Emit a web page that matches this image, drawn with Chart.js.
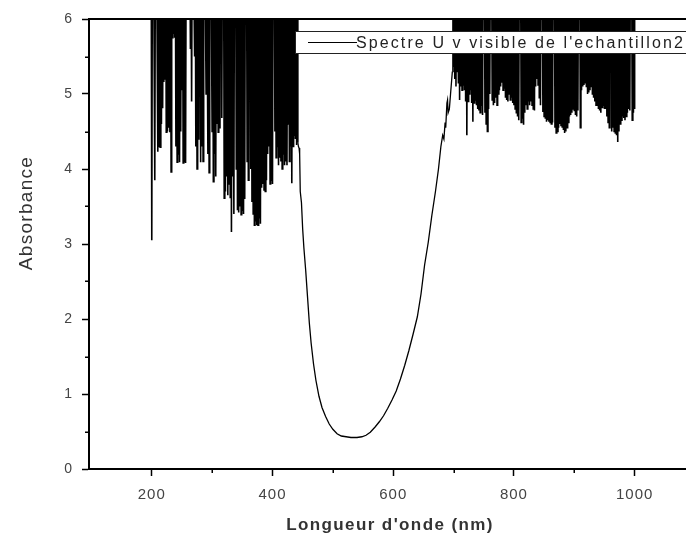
<!DOCTYPE html>
<html>
<head>
<meta charset="utf-8">
<script src="https://cdn.jsdelivr.net/npm/chart.js@4.4.1/dist/chart.umd.min.js"></script>
<style>
  html, body { margin: 0; padding: 0; overflow: hidden; background: #fff; }
  #wrap { width: 706px; height: 539px; }
  canvas { display: block; }
</style>
</head>
<body>
<div id="wrap"><canvas id="chart" width="706" height="539"></canvas></div>
<script>
// UV region: detector saturated, readings jump between the trough and off-scale (> 6)
const uvSaturated = [
  [199,7],[200,3.05],[201,7],[203,7],[205,3.85],[206,7],[208,7],[210,4.23],[211,7],[212,4.30],
  [213,7],[214,4.29],[215,7],[216,4.60],[217,7],[218,4.81],[219,7],[220,5.16],[221,7],[222,5.20],
  [223,7],[224,4.49],[225,7],[226,4.50],[227,7],[228,4.55],[229,7],[230,4.49],[231,7],[232,3.96],
  [233,7],[234,5.75],[235,7],[236,5.80],[237,7],[238,5.75],[239,7],[240,4.30],[241,7],[242,4.09],
  [243,7],[244,4.20],[245,7],[246,4.09],[247,7],[248,4.50],[249,7],[250,5.05],[251,7],[252,4.08],
  [253,7],[254,4.10],[255,7],[256,4.08],[257,7],[259,7],[261,7],[263,7],[264,5.60],[265,7],
  [266,4.90],[267,7],[269,7],[271,5.50],[272,7],[273,4.30],[274,7],[275,4.00],[276,7],[277,4.40],
  [278,7],[280,7],[281,4.09],[282,7],[283,4.30],[284,7],[285,4.10],[286,7],[288,7],[290,5.00],
  [291,7],[293,4.20],[294,7],[295,3.95],[296,7],[298,7],[300,4.50],[301,7],[302,3.83],[303,7],
  [304,4.20],[305,7],[306,3.90],[307,7],[308,4.60],[309,7],[310,4.49],[311,7],[312,4.55],[313,7],
  [315,7],[316,4.68],[317,7],[319,7],[320,3.61],[321,7],[322,3.70],[323,7],[324,3.90],[325,7],
  [326,3.65],[327,7],[328,3.80],[329,7],[330,3.62],[331,7],[332,3.16],[333,7],[334,3.90],[335,7],
  [336,3.40],[337,7],[339,7],[340,4.00],[341,7],[342,3.45],[343,7],[344,3.42],[345,7],[346,3.50],
  [347,7],[348,3.39],[349,7],[350,3.45],[351,7],[352,3.40],[353,7],[354,3.60],[355,7],[357,7],
  [358,4.10],[359,7],[360,3.85],[361,7],[363,7],[364,4.00],[365,7],[366,3.56],[367,7],[368,3.40],
  [369,7],[370,3.25],[371,7],[372,3.30],[373,7],[374,3.25],[375,7],[376,3.25],[377,7],[378,3.35],
  [379,7],[380,3.27],[381,7],[382,3.75],[383,7],[384,3.80],[385,7],[386,3.72],[387,7],[388,3.70],
  [389,7],[390,3.85],[391,7],[392,4.20],[393,7],[394,4.30],[395,7],[396,3.80],[397,7],[398,3.85],
  [399,7],[400,3.80],[401,7],[403,7],[404,4.50],[405,7],[406,4.15],[407,7],[408,4.30],[409,7],
  [410,4.05],[411,7],[412,4.15],[413,7],[414,4.10],[415,7],[416,4.00],[417,7],[418,4.20],[419,7],
  [420,4.05],[421,7],[422,4.10],[423,7],[424,4.05],[425,7],[426,4.60],[427,7],[428,4.10],[429,7],
  [430,4.30],[431,7],[432,3.81],[433,7],[434,4.30],[435,7],[436,4.45],[437,7],[438,4.40],[439,7],
  [440,4.32],[441,7],[442,4.35]
];

// Visible absorption band: clean reading with its minimum near 530 nm
const visibleBand = [
  [443,4.30],[444,4.28],[445,4.20],[446,3.70],[448,3.55],[450,3.20],[452,2.95],[455,2.65],
  [458,2.30],[461,1.95],[464,1.68],[468,1.40],[472,1.18],[477,0.97],[482,0.82],[488,0.70],
  [494,0.60],[500,0.53],[507,0.47],[514,0.44],[522,0.43],[530,0.42],[540,0.42],[548,0.43],
  [555,0.45],[562,0.49],[570,0.56],[577,0.63],[584,0.71],[591,0.81],[598,0.92],[605,1.04],
  [612,1.20],[619,1.38],[626,1.58],[633,1.80],[640,2.03],[646,2.33],[652,2.72],[658,3.02],
  [664,3.38],[670,3.70],[675,4.00],[679,4.30],[682,4.45],[684,4.40],[686,4.62],[687,4.55],
  [689,4.88],[690,4.92],[691,4.75],[693,4.80],[695,5.00],[697,5.20]
];

// Near-infrared region: saturated again
const nirSaturated = [
  [698,5.30],[699,7],[700,5.36],[701,7],[702,5.20],[703,7],[704,5.10],[705,7],[706,5.30],[707,7],
  [708,5.15],[709,7],[710,4.92],[711,7],[712,5.10],[713,7],[714,5.05],[715,7],[716,5.12],[717,7],
  [718,5.05],[719,7],[720,4.90],[721,7],[722,4.45],[723,7],[724,4.90],[725,7],[726,5.00],[727,7],
  [728,5.05],[729,7],[730,4.88],[731,7],[732,4.63],[733,7],[734,4.88],[735,7],[736,4.92],[737,7],
  [738,4.85],[739,7],[740,4.80],[741,7],[742,4.78],[743,7],[744,4.75],[745,7],[746,4.85],[747,7],
  [748,4.72],[749,7],[751,7],[752,4.75],[753,7],[754,4.60],[755,7],[756,4.50],[757,7],[758,4.80],
  [759,7],[760,5.00],[761,7],[763,7],[764,4.92],[765,7],[766,4.85],[767,7],[768,4.88],[769,7],
  [770,4.95],[771,7],[772,4.85],[773,7],[774,5.00],[775,7],[776,5.05],[777,7],[778,5.10],[779,7],
  [780,5.15],[781,7],[782,5.05],[783,7],[784,5.08],[785,7],[786,4.95],[787,7],[788,4.92],[789,7],
  [790,4.90],[791,7],[792,5.00],[793,7],[794,4.92],[795,7],[796,4.95],[797,7],[798,4.88],[799,7],
  [800,4.85],[801,7],[802,4.80],[803,7],[804,4.75],[805,7],[806,4.70],[807,7],[808,4.65],[809,7],
  [811,7],[812,4.62],[813,7],[814,4.68],[815,7],[816,4.59],[817,7],[818,4.75],[819,7],[820,4.85],
  [821,7],[822,4.80],[823,7],[824,4.90],[825,7],[826,4.85],[827,7],[828,4.90],[829,7],[830,4.85],
  [831,7],[832,4.80],[833,7],[834,4.78],[835,7],[836,5.10],[837,7],[838,5.20],[839,7],[840,5.12],
  [841,7],[842,4.95],[843,7],[844,4.85],[845,7],[847,7],[848,4.76],[849,7],[850,4.70],[851,7],
  [852,4.68],[853,7],[854,4.63],[855,7],[856,4.65],[857,7],[858,4.63],[859,7],[860,4.62],[861,7],
  [862,4.60],[863,7],[864,4.62],[865,7],[867,7],[868,4.55],[869,7],[870,4.48],[871,7],[872,4.50],
  [873,7],[874,4.55],[875,7],[876,4.60],[877,7],[878,4.58],[879,7],[880,4.56],[881,7],[882,4.52],
  [883,7],[884,4.48],[885,7],[886,4.50],[887,7],[888,4.55],[889,7],[890,4.62],[891,7],[892,4.70],
  [893,7],[894,4.72],[895,7],[896,4.75],[897,7],[898,4.80],[899,7],[900,4.78],[901,7],[902,4.72],
  [903,7],[904,4.70],[905,7],[906,4.78],[907,7],[909,7],[910,4.55],[911,7],[912,5.05],[913,7],
  [914,5.10],[915,7],[916,5.12],[917,7],[918,5.15],[919,7],[920,5.10],[921,7],[922,5.00],[923,7],
  [924,5.02],[925,7],[926,5.05],[927,7],[928,5.10],[929,7],[930,5.00],[931,7],[932,4.95],[933,7],
  [934,4.90],[935,7],[936,4.85],[937,7],[938,4.85],[939,7],[940,4.80],[941,7],[942,4.78],[943,7],
  [944,4.75],[945,7],[946,4.82],[947,7],[948,4.85],[949,7],[950,4.80],[951,7],[952,4.80],[953,7],
  [954,4.70],[955,7],[956,4.62],[957,7],[958,4.55],[959,7],[961,7],[962,4.50],[963,7],[964,4.55],
  [965,7],[966,4.50],[967,7],[968,4.48],[969,7],[970,4.45],[971,7],[972,4.36],[973,7],[974,4.50],
  [975,7],[976,4.60],[977,7],[978,4.65],[979,7],[980,4.70],[981,7],[982,4.68],[983,7],[984,4.65],
  [985,7],[986,4.70],[987,7],[988,4.75],[989,7],[990,4.80],[991,7],[992,4.78],[993,7],[995,7],
  [996,4.65],[997,7],[998,4.75],[999,7],[1000,4.80]
];

const xMajorTicks = [200, 400, 600, 800, 1000];
const xMinorTicks = [300, 500, 700, 900];
const yMajorTicks = [0, 1, 2, 3, 4, 5, 6];
const yMinorTicks = [0.5, 1.5, 2.5, 3.5, 4.5, 5.5];

const seriesLabel = "Spectre U v visible de l'echantillon2";
const xTitle = "Longueur d'onde (nm)";
const yTitle = "Absorbance";

const spectrum = [...uvSaturated, ...visibleBand, ...nirSaturated].map(([x, y]) => ({ x, y }));

const FONT = "'Liberation Sans', Arial, sans-serif";

// Draws the frame top, minor ticks, axis titles and the boxed legend
const framePlugin = {
  id: 'frame',
  beforeDraw(chart) {
    chart.ctx.letterSpacing = '1px';
  },
  afterDraw(chart) {
    const { ctx, chartArea: a, scales } = chart;
    ctx.save();
    ctx.letterSpacing = '0px';
    ctx.strokeStyle = '#000';
    ctx.lineWidth = 2;
    ctx.beginPath();
    ctx.moveTo(a.left - 1, a.top);
    ctx.lineTo(a.right, a.top);
    ctx.stroke();

    ctx.lineWidth = 1.5;
    ctx.beginPath();
    xMinorTicks.forEach(v => {
      const px = Math.round(scales.x.getPixelForValue(v)) + 0.25;
      ctx.moveTo(px, a.bottom);
      ctx.lineTo(px, a.bottom + 4);
    });
    yMinorTicks.forEach(v => {
      const py = Math.round(scales.y.getPixelForValue(v)) + 0.25;
      ctx.moveTo(a.left, py);
      ctx.lineTo(a.left - 4, py);
    });
    ctx.stroke();

    // axis titles
    ctx.fillStyle = '#333';
    ctx.textBaseline = 'alphabetic';
    ctx.textAlign = 'left';
    ctx.font = 'bold 17px ' + FONT;
    ctx.letterSpacing = '1.4px';
    let w = ctx.measureText(xTitle).width;
    ctx.fillText(xTitle, 390 - w / 2, 530);

    ctx.save();
    ctx.translate(32, 213);
    ctx.rotate(-Math.PI / 2);
    ctx.font = '19px ' + FONT;
    ctx.letterSpacing = '1.3px';
    w = ctx.measureText(yTitle).width;
    ctx.fillText(yTitle, -w / 2, 0);
    ctx.restore();

    // legend box
    const lx = 295, ly = 31, lh = 22;
    ctx.fillStyle = '#fff';
    ctx.fillRect(lx, ly, chart.width - lx + 10, lh);
    ctx.strokeStyle = '#222';
    ctx.lineWidth = 1;
    ctx.strokeRect(lx + 0.5, ly + 0.5, chart.width - lx + 10, lh);
    const ds = chart.data.datasets[0];
    ctx.strokeStyle = ds.borderColor;
    ctx.lineWidth = 1.2;
    ctx.beginPath();
    ctx.moveTo(308, ly + 11.5);
    ctx.lineTo(357, ly + 11.5);
    ctx.stroke();
    ctx.fillStyle = '#222';
    ctx.font = '16px ' + FONT;
    ctx.letterSpacing = '2.1px';
    ctx.fillText(ds.label, 356, ly + 17);
    ctx.restore();
  }
};

new Chart(document.getElementById('chart'), {
  type: 'line',
  data: {
    datasets: [{
      label: seriesLabel,
      data: spectrum,
      borderColor: '#000',
      borderWidth: 1.6,
      pointRadius: 0,
      tension: 0,
      fill: false,
      // off-scale spikes drawn slightly heavier than the clean band
      segment: {
        borderWidth: c => (c.p0.parsed.y > 6 || c.p1.parsed.y > 6) ? 1.6 : 1.3
      }
    }]
  },
  options: {
    responsive: false,
    animation: false,
    events: [],
    layout: { padding: { top: 19, right: 11, bottom: 0, left: 0 } },
    plugins: { legend: { display: false }, tooltip: { enabled: false } },
    scales: {
      x: {
        type: 'linear',
        min: 96,
        max: 1100,
        afterBuildTicks: s => { s.ticks = xMajorTicks.map(v => ({ value: v })); },
        afterFit: s => { s.height = 70; },
        grid: { drawOnChartArea: false, drawTicks: true, tickLength: 7, tickWidth: 1.5, tickColor: '#000' },
        border: { display: true, color: '#000', width: 2 },
        ticks: { padding: 10, color: '#444', autoSkip: false, maxRotation: 0,
                 callback: v => String(v),
                 font: { family: FONT, size: 15 } }
      },
      y: {
        min: 0,
        max: 6,
        afterBuildTicks: s => { s.ticks = yMajorTicks.map(v => ({ value: v })); },
        afterFit: s => { s.width = 89; },
        grid: { drawOnChartArea: false, drawTicks: true, tickLength: 7, tickWidth: 1.5, tickColor: '#000' },
        border: { display: true, color: '#000', width: 2 },
        ticks: { padding: 9, color: '#444', callback: v => String(v),
                 font: { family: FONT, size: 14 } }
      }
    }
  },
  plugins: [framePlugin]
});
</script>
</body>
</html>
